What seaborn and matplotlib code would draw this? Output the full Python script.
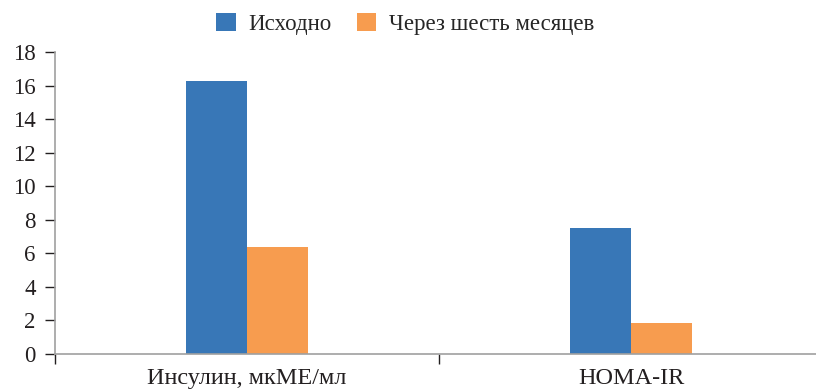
import matplotlib.pyplot as plt
import pandas as pd
import seaborn as sns

categories = ["Инсулин, мкМЕ/мл", "HOMA-IR"]
series = ["Исходно", "Через шесть месяцев"]
baseline = [16.3, 7.5]
six_months = [6.4, 1.85]
y_ticks = [0, 2, 4, 6, 8, 10, 12, 14, 16, 18]


def main():
    df = pd.DataFrame({
        "Показатель": categories * 2,
        "Период": [series[0]] * 2 + [series[1]] * 2,
        "Значение": baseline + six_months,
    })

    sns.set_style("white")
    plt.rcParams["font.family"] = ["Liberation Serif", "DejaVu Serif"]

    fig = plt.figure(figsize=(8.16, 3.89), dpi=100)
    ax = fig.add_axes([55 / 816, 1 - 354 / 389, 768 / 816, 302 / 389])

    sns.barplot(data=df, x="Показатель", y="Значение", hue="Период",
                palette=["#3877b7", "#f79c4f"], width=0.32, saturation=1,
                linewidth=0, ax=ax, legend=True)

    ax.set_ylim(0, 18)
    ax.set_xlim(-0.5, 1.5)
    ax.set_yticks(y_ticks)
    ax.set_xticks([-0.5, 0.5, 1.5], minor=True)
    ax.tick_params(axis="x", which="major", length=0, labelsize=17.5, pad=10,
                   colors="#231f20")
    ax.tick_params(axis="x", which="minor", length=7, width=1, color="#231f20",
                   direction="out", bottom=True)
    ax.tick_params(axis="y", length=7, width=1, color="#231f20", labelsize=16.5,
                   colors="#231f20", direction="out", left=True, pad=7)
    ax.set_xlabel("")
    ax.set_ylabel("")
    for side in ["top", "right"]:
        ax.spines[side].set_visible(False)
    for side in ["left", "bottom"]:
        ax.spines[side].set_color("#a0a0a0")
        ax.spines[side].set_linewidth(1.2)

    ax.legend(loc="upper center", ncol=2, frameon=False, fontsize=16.5,
              handlelength=0.85, handleheight=0.85, columnspacing=1.1,
              handletextpad=0.55)
    ax.get_legend().set_bbox_to_anchor((405 / 816, 1.02), transform=fig.transFigure)

    fig.savefig("out.png", dpi=100)


if __name__ == "__main__":
    main()
